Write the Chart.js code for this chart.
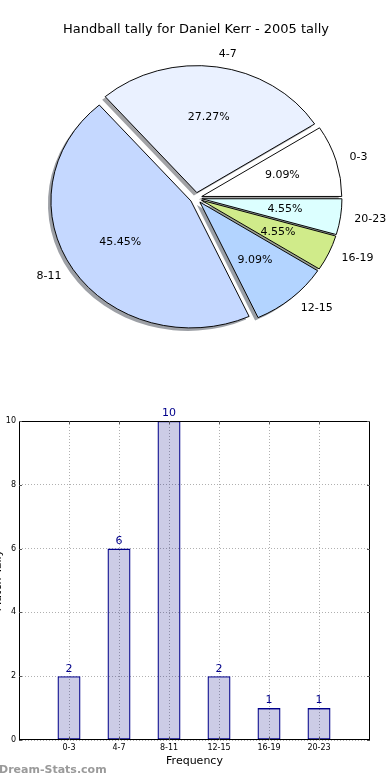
<!DOCTYPE html>
<html>
<head>
<meta charset="utf-8">
<script src="https://cdn.jsdelivr.net/npm/chart.js@4.4.1/dist/chart.umd.min.js"></script>
<style>
  html, body { margin:0; padding:0; background:#fff; width:390px; height:780px; overflow:hidden; position:relative; }
  canvas { position:absolute; }
  #wm { position:absolute; left:-1px; top:763px; font:bold 11px 'DejaVu Sans', sans-serif; color:#9a9a9a; white-space:nowrap; }
</style>
</head>
<body>
<canvas id="pie" width="390" height="395" style="left:0;top:0"></canvas>
<canvas id="bar" width="402" height="385" style="left:-12px;top:395px"></canvas>
<div id="wm">Dream-Stats.com</div>
<script>
// ---- data ----
const chartTitle = 'Handball tally for Daniel Kerr - 2005 tally';
const categories = ['0-3', '4-7', '8-11', '12-15', '16-19', '20-23'];
const tally = [2, 6, 10, 2, 1, 1];
const yTicks = [0, 2, 4, 6, 8, 10];
const xAxisTitle = 'Frequency';
const yAxisTitle = 'Match Tally';
const sliceColors = ['#ffffff', '#eaf1ff', '#c5d8ff', '#b3d4ff', '#d0eb8a', '#dcffff'];

Chart.defaults.font.family = "'DejaVu Sans', sans-serif";
Chart.defaults.color = '#000';
Chart.defaults.animation = false;

// ---- pie (matplotlib style: counter-clockwise from east, exploded, shadow, elliptical) ----
const EXPLODE = 6, SY = 0.907, SHX = -3, SHY = 3;
const total = tally.reduce((a, b) => a + b, 0);
const pieLabels = categories.slice().reverse();
const pieValues = tally.slice().reverse();
const pieColors = sliceColors.slice().reverse();

function shadowOf(hex) {
  const n = parseInt(hex.slice(1), 16);
  const r = (n >> 16) & 255, g = (n >> 8) & 255, b = n & 255;
  return `rgba(${Math.round(r*0.3)},${Math.round(g*0.3)},${Math.round(b*0.3)},0.5)`;
}

const pieFx = {
  id: 'pieFx',
  beforeDatasetDraw(chart, args) {
    const ctx = chart.ctx, arcs = args.meta.data;
    const cx = arcs[0].x, cy = arcs[0].y;
    ctx.save();
    ctx.translate(cx, cy); ctx.scale(1, SY); ctx.translate(-cx, -cy);
    arcs.forEach(arc => {
      const m = (arc.startAngle + arc.endAngle) / 2, o = arc.options;
      ctx.save();
      ctx.translate(Math.cos(m) * EXPLODE + SHX, Math.sin(m) * EXPLODE + SHY / SY);
      arc.options = Object.assign({}, o, { backgroundColor: shadowOf(o.backgroundColor), borderColor: 'rgba(0,0,0,0)', borderWidth: 0 });
      arc.draw(ctx);
      arc.options = o;
      ctx.restore();
    });
    arcs.forEach(arc => {
      const m = (arc.startAngle + arc.endAngle) / 2;
      ctx.save();
      ctx.translate(Math.cos(m) * EXPLODE, Math.sin(m) * EXPLODE);
      arc.draw(ctx);
      ctx.restore();
    });
    ctx.restore();
    return false;
  },
  afterDatasetsDraw(chart) {
    const ctx = chart.ctx, arcs = chart.getDatasetMeta(0).data;
    const vals = chart.data.datasets[0].data, labs = chart.data.labels;
    ctx.save();
    ctx.fillStyle = '#000';
    ctx.font = "11px 'DejaVu Sans', sans-serif";
    ctx.textBaseline = 'middle';
    arcs.forEach((arc, i) => {
      const m = (arc.startAngle + arc.endAngle) / 2, R = arc.outerRadius;
      const c = Math.cos(m), s = Math.sin(m);
      const ex = arc.x + c * EXPLODE, ey = arc.y + s * EXPLODE;
      const toY = y => arc.y + (y - arc.y) * SY;
      ctx.textAlign = c > 0 ? 'left' : 'right';
      ctx.fillText(labs[i], ex + 1.1 * R * c, toY(ey + 1.1 * R * s));
      ctx.textAlign = 'center';
      ctx.fillText((vals[i] / total * 100).toFixed(2) + '%', ex + 0.6 * R * c, toY(ey + 0.6 * R * s));
    });
    ctx.restore();
  }
};

new Chart(document.getElementById('pie'), {
  type: 'pie',
  data: {
    labels: pieLabels,
    datasets: [{
      data: pieValues,
      backgroundColor: pieColors,
      borderColor: '#000',
      borderWidth: 1,
      clip: false
    }]
  },
  options: {
    responsive: false,
    rotation: 90,
    radius: 140,
    layout: { padding: { left: 2, right: 0, top: 0, bottom: 46.6 } },
    plugins: {
      legend: { display: false },
      tooltip: { enabled: false },
      title: { display: true, text: chartTitle, color: '#000', font: { size: 13, weight: 'normal' }, padding: { top: 22, bottom: 10 } }
    }
  },
  plugins: [pieFx]
});

// ---- bar chart ----
const barDeco = {
  id: 'barDeco',
  afterDatasetsDraw(chart) {
    const ctx = chart.ctx, meta = chart.getDatasetMeta(0);
    const vals = chart.data.datasets[0].data;
    ctx.save();
    ctx.fillStyle = '#00008b';
    ctx.font = "11px 'DejaVu Sans', sans-serif";
    ctx.textAlign = 'center';
    ctx.textBaseline = 'bottom';
    meta.data.forEach((bar, i) => ctx.fillText(String(vals[i].y), bar.x, bar.y - 2));
    // frame + inward ticks
    const a = chart.chartArea, xs = chart.scales.x, ys = chart.scales.y;
    ctx.strokeStyle = '#000';
    ctx.lineWidth = 1;
    ctx.strokeRect(Math.round(a.left) + 0.5, Math.round(a.top) + 0.5, Math.round(a.right - a.left) - 1, Math.round(a.bottom - a.top) - 1);
    ctx.beginPath();
    xs.ticks.forEach(t => {
      const x = Math.round(xs.getPixelForValue(t.value)) + 0.5;
      ctx.moveTo(x, a.bottom); ctx.lineTo(x, a.bottom - 3);
      ctx.moveTo(x, a.top); ctx.lineTo(x, a.top + 3);
    });
    ys.ticks.forEach(t => {
      const y = Math.round(ys.getPixelForValue(t.value)) + 0.5;
      ctx.moveTo(a.left, y); ctx.lineTo(a.left + 3, y);
      ctx.moveTo(a.right, y); ctx.lineTo(a.right - 3, y);
    });
    ctx.strokeStyle = '#555';
    ctx.stroke();
    ctx.restore();
  }
};

new Chart(document.getElementById('bar'), {
  type: 'bar',
  data: {
    datasets: [{
      data: tally.map((v, i) => ({ x: i, y: v })),
      backgroundColor: 'rgba(0,0,128,0.2)',
      borderColor: '#00008b',
      borderWidth: 1.3,
      borderSkipped: false,
      categoryPercentage: 1,
      barPercentage: 0.46
    }]
  },
  options: {
    responsive: false,
    layout: { padding: { left: 0, right: 20, top: 26, bottom: 0 } },
    plugins: { legend: { display: false }, tooltip: { enabled: false } },
    scales: {
      x: {
        type: 'linear', position: 'bottom', min: -1, max: 6.02, offset: false,
        afterBuildTicks: s => { s.ticks = categories.map((_, i) => ({ value: i })); },
        afterFit: s => { s.height = 40; },
        ticks: { callback: v => categories[v], font: { size: 8 }, color: '#000', padding: 3, maxRotation: 0, autoSkip: false },
        grid: { color: '#b0b0b0', lineWidth: 1, drawTicks: false, offset: false },
        border: { display: false, dash: [1, 2] },
        title: { display: true, text: xAxisTitle, color: '#000', font: { size: 11 }, padding: { top: 0, bottom: 12 } }
      },
      y: {
        min: 0, max: 10,
        afterBuildTicks: s => { s.ticks = yTicks.map(v => ({ value: v })); },
        afterFit: s => { s.width = 31; },
        ticks: { font: { size: 8 }, color: '#000', padding: 3 },
        grid: { color: '#b0b0b0', lineWidth: 1, drawTicks: false },
        border: { display: false, dash: [1, 2] },
        title: { display: true, text: yAxisTitle, color: '#000', font: { size: 11 }, padding: { top: 4, bottom: 0 } }
      }
    }
  },
  plugins: [barDeco]
});
</script>
</body>
</html>
